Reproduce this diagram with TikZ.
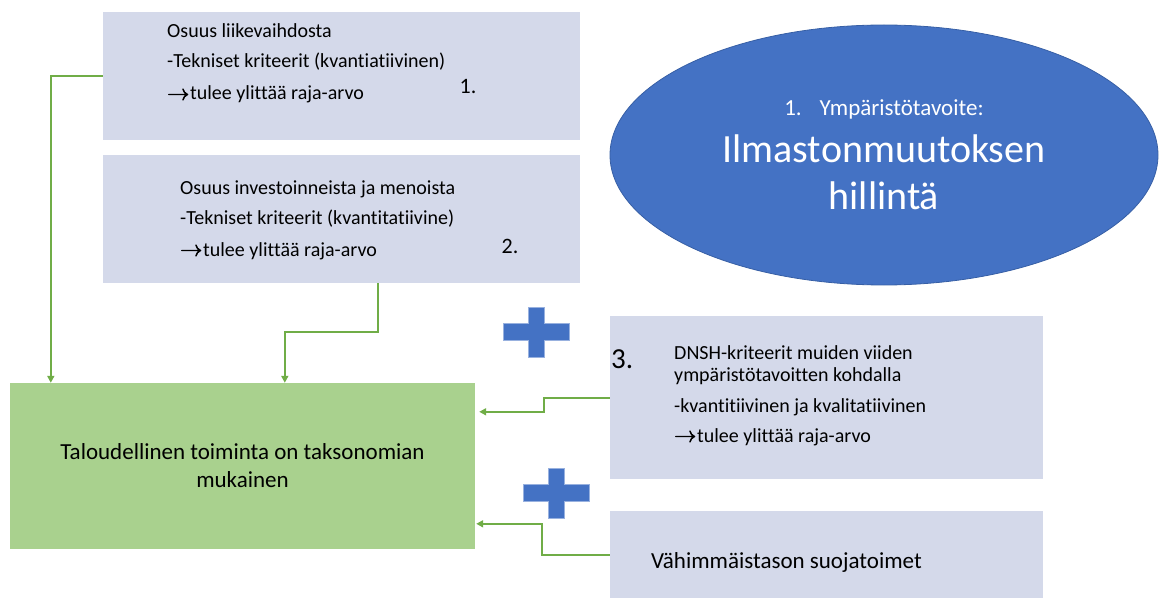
\documentclass[tikz,border=0pt]{standalone}
\usepackage{fontspec}
\setmainfont[Ligatures=NoCommon]{Carlito}
\newfontfamily\arrowfont{latinmodern-math.otf}[FakeBold=2.5,Scale=1.1]
\usetikzlibrary{arrows.meta,shapes.geometric}
\definecolor{critblue}{RGB}{212,217,234}
\definecolor{okgreen}{RGB}{169,209,142}
\definecolor{linegreen}{RGB}{112,173,71}
\definecolor{goalblue}{RGB}{68,114,196}
\definecolor{goalrim}{RGB}{55,95,165}
\newcommand{\raja}{{\arrowfont\char"2192}\kern1pt tulee ylittää raja-arvo}
\newcommand{\plusmark}[2]{\draw[plusshape, shift={(#1,#2)}] (-33,-8.5) -- (-8,-8.5) -- (-8,-25) -- (8,-25) -- (8,-8.5) -- (33,-8.5) -- (33,8.5) -- (8,8.5) -- (8,25) -- (-8,25) -- (-8,8.5) -- (-33,8.5) -- cycle;}
\tikzset{
  critbox/.style={rectangle, fill=critblue, inner sep=0pt},
  crittext/.style={anchor=base west, inner sep=0pt, font=\fontsize{20}{24}\selectfont},
  numtext/.style={anchor=base, inner sep=0pt, font=\fontsize{22}{26}\selectfont},
  conn/.style={draw=linegreen, line width=2pt, -{Triangle[length=7pt,width=7pt]}},
  plusshape/.style={fill=goalblue, draw=goalblue!55!white, line width=0.8pt}
}

\begin{document}
\begin{tikzpicture}[x=1pt, y=-1pt]
			%%%%% START %%%%%
			\useasboundingbox (0,0) rectangle (1163,599);
			
			\node[critbox, minimum width=477pt, minimum height=128pt] (box1) at (341.5,76) {};
			\node[crittext] (b1a) at (167,38) {Osuus liikevaihdosta};
			\node[crittext] (b1b) at (167,68) {-Tekniset kriteerit (kvantiatiivinen)};
			\node[crittext] (b1c) at (167,100) {\raja};
			\node[numtext] (num1) at (468,94) {1.};
			
			\node[critbox, minimum width=477pt, minimum height=128pt] (box2) at (341.5,219) {};
			\node[crittext] (b2a) at (180,195) {Osuus investoinneista ja menoista};
			\node[crittext] (b2b) at (180,225) {-Tekniset kriteerit (kvantitatiivine)};
			\node[crittext] (b2c) at (180,256) {\raja};
			\node[numtext] (num2) at (510,254) {2.};
			
			\node[critbox, minimum width=433pt, minimum height=163pt] (box3) at (826.5,397.5) {};
			\node[crittext] (b3a) at (674,359) {DNSH-kriteerit muiden viiden};
			\node[crittext] (b3b) at (674,381) {ympäristötavoitten kohdalla};
			\node[crittext] (b3c) at (674,412) {-kvantitiivinen ja kvalitatiivinen};
			\node[crittext] (b3d) at (674,442) {\raja};
			\node[crittext, font=\fontsize{29}{34}\selectfont] (num3) at (611,368) {3.};
			
			\node[critbox, minimum width=433pt, minimum height=87pt] (box4) at (826.5,554.5) {};
			\node[crittext, font=\fontsize{23}{28}\selectfont] (b4a) at (651,568) {Vähimmäistason suojatoimet};
			
			\node[rectangle, fill=okgreen, minimum width=465pt, minimum height=166pt, align=center,
			      font=\fontsize{23}{28}\selectfont] (toiminta) at (242.5,466) {Taloudellinen toiminta on taksonomian\\mukainen};
			
			\node[ellipse, fill=goalblue, draw=goalrim, line width=0.8pt, minimum width=548pt, minimum height=260pt,
			      inner sep=0pt, text=white, align=center, font=\fontsize{40}{47}\selectfont] (goal) at (884,155)
			      {{\fontsize{23}{28}\selectfont 1.\hspace{18pt}Ympäristötavoite:}\\Ilmastonmuutoksen\\hillintä};
			
			\plusmark{536}{332}
			\plusmark{556}{493}
			
			\draw[conn] (box1.west) -| ([xshift=41pt]toiminta.north west);
			\draw[conn] ([xshift=275pt]box2.south west) -- ++(0,49) -| ([xshift=275pt]toiminta.north west);
			\draw[conn] (box3.west) -- ++(-66,0) |- ([xshift=4pt,yshift=-29pt]toiminta.north east);
			\draw[conn] (box4.west) -- ++(-68,0) |- ([xshift=1pt,yshift=-141pt]toiminta.north east);
			
			%%%%% END %%%%%
\end{tikzpicture}
\end{document}
